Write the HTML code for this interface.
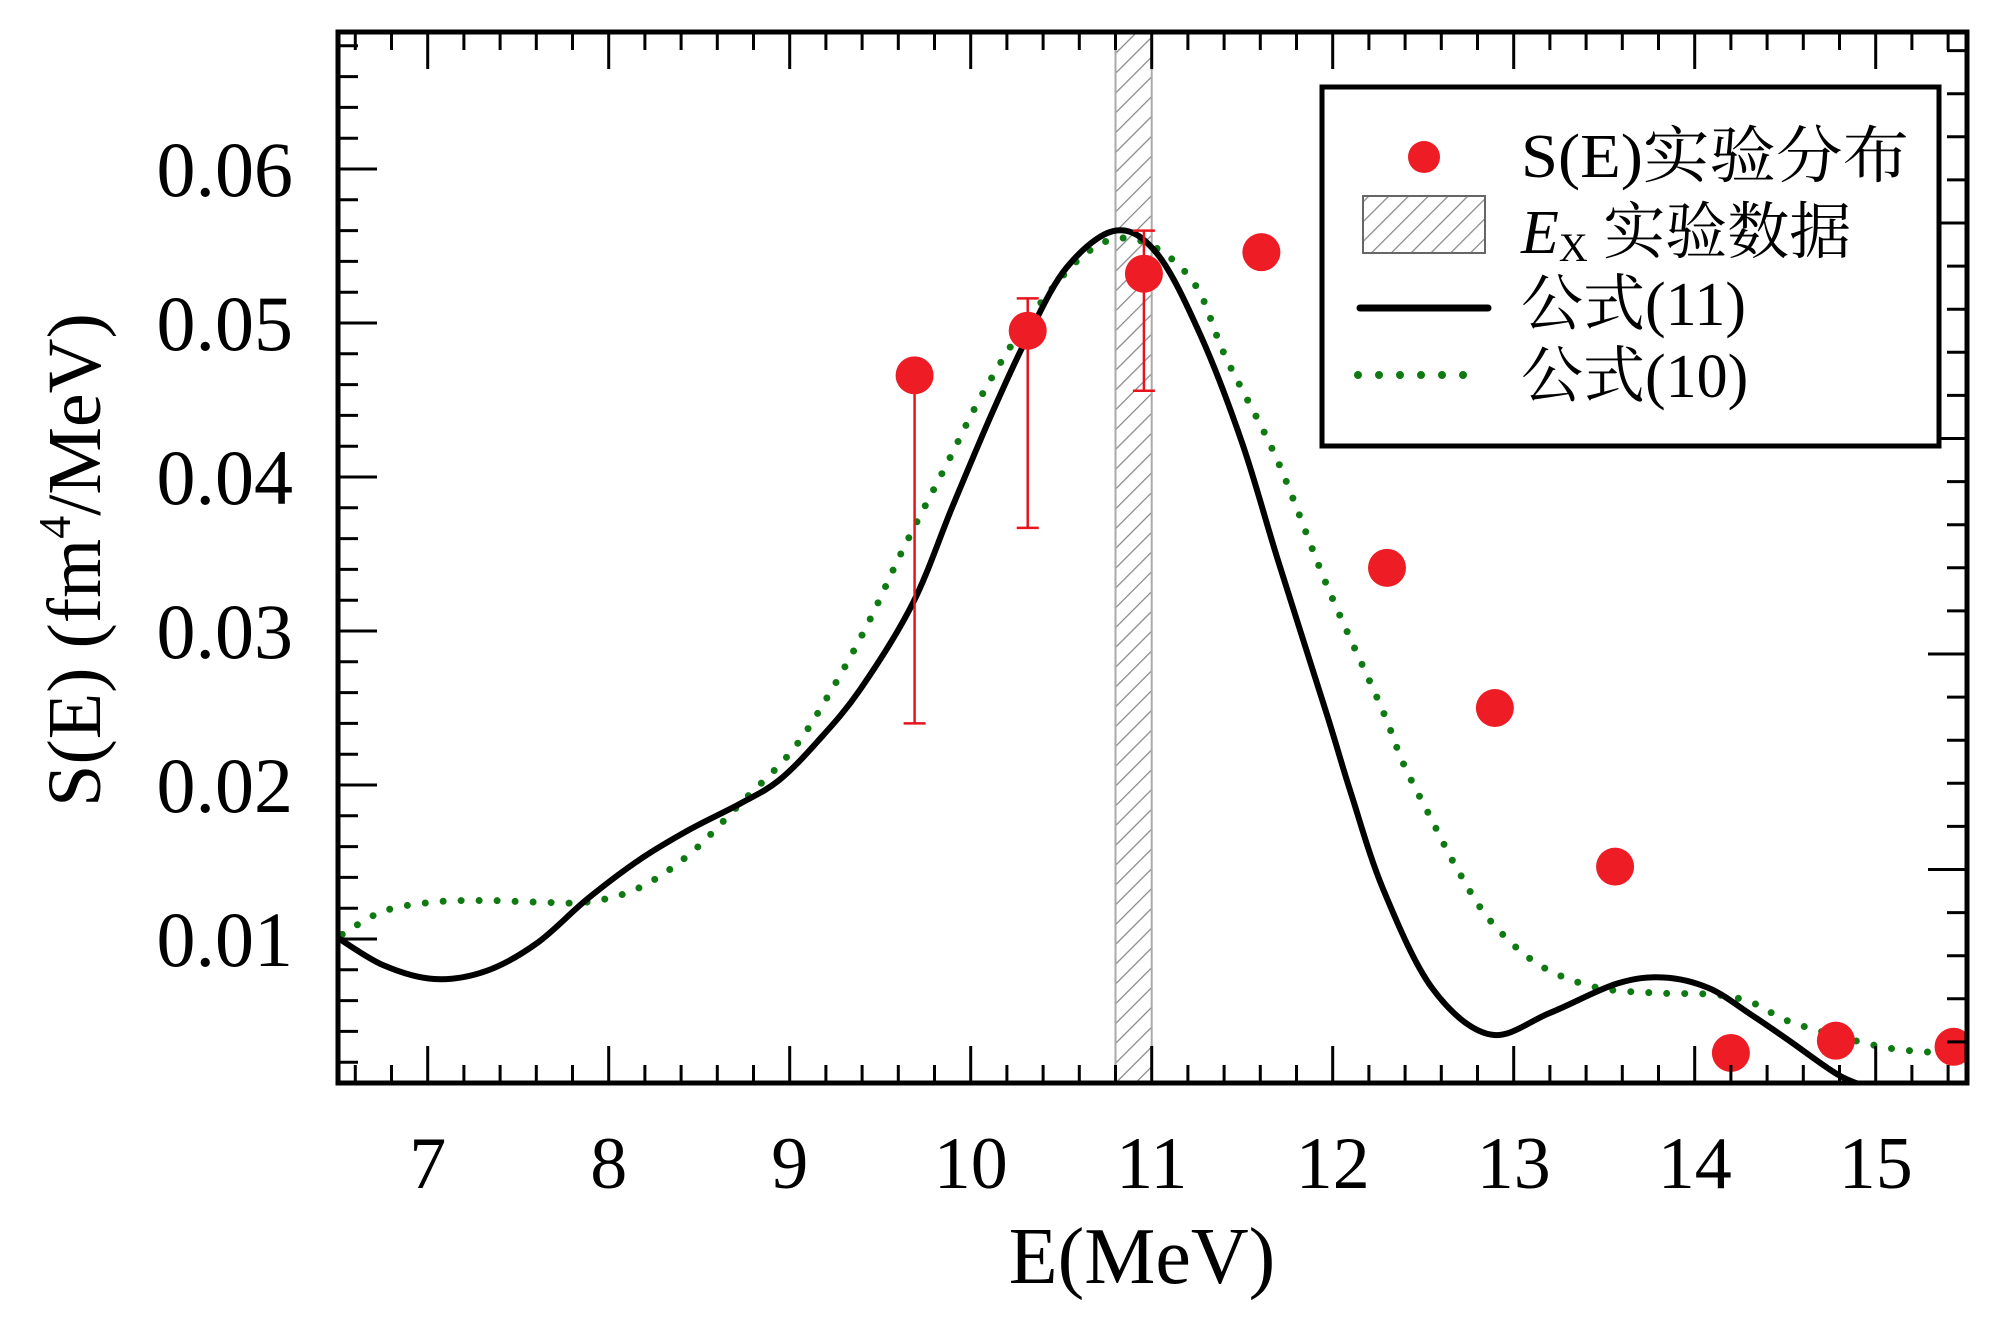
<!DOCTYPE html>
<html><head><meta charset="utf-8"><style>
html,body{margin:0;padding:0;background:#fff;}
svg{display:block;}
text{font-family:"Liberation Serif","Noto Serif CJK SC","Noto Sans CJK SC",serif;fill:#000;}
</style></head><body>
<svg id="chart" width="2000" height="1333" viewBox="0 0 2000 1333" xmlns="http://www.w3.org/2000/svg">
<defs>
<pattern id="hatch" patternUnits="userSpaceOnUse" width="14" height="14" patternTransform="rotate(45)">
<rect width="14" height="14" fill="#fff"/>
<line x1="0" y1="0" x2="0" y2="14" stroke="#888" stroke-width="2.5"/>
</pattern>
<clipPath id="plotclip"><rect x="338" y="32" width="1629" height="1051"/></clipPath>
</defs>
<g id="plot" clip-path="url(#plotclip)"></g>
<g id="axes"></g>
<g id="legend"></g>
</svg>
<script>
const expE = [9.69, 10.315, 10.957, 11.606, 12.30, 12.896, 13.56, 14.20, 14.78, 15.43];
const expS = [0.0466, 0.0495, 0.0532, 0.0546, 0.0341, 0.0250, 0.0147, 0.0026, 0.0034, 0.0030];
const errIdx = [0, 1, 2];
const errLo = [0.0240, 0.0367, 0.0456];
const errHi = [0.0466, 0.0516, 0.0560];
const f11E = [6.5,6.754,7.036,7.318,7.6,7.882,8.164,8.446,8.728,8.94,9.152,9.389,9.68,9.90,10.12,10.31,10.53,10.80,11.03,11.27,11.50,11.70,11.97,12.10,12.28,12.55,12.87,13.20,13.57,13.83,14.08,14.31,14.51,14.79,14.97,15.1];
const f11S = [0.0101,0.0083,0.0074,0.0079,0.0097,0.0126,0.0151,0.0171,0.0188,0.0203,0.0228,0.0262,0.0318,0.0381,0.0442,0.0490,0.0536,0.0560,0.0545,0.0492,0.0422,0.0345,0.0245,0.0195,0.0132,0.0068,0.0038,0.0052,0.0071,0.0075,0.0068,0.0051,0.0035,0.0012,0.0003,-0.0005];
const f10E = [6.528,6.754,7.036,7.318,7.6,7.882,8.164,8.446,8.728,9.011,9.223,9.433,9.626,9.875,10.024,10.19,10.367,10.604,10.814,11.035,11.25,11.408,11.69,11.97,12.27,12.39,12.54,12.69,12.87,13.13,13.44,13.77,14.10,14.31,14.51,14.79,15.08,15.36];
const f10S = [0.0103,0.0118,0.0124,0.0125,0.0124,0.0124,0.0133,0.0155,0.0188,0.0222,0.0260,0.0305,0.0353,0.0410,0.0445,0.0479,0.0510,0.0542,0.0555,0.0548,0.0523,0.0478,0.0412,0.0329,0.0250,0.0214,0.0179,0.0145,0.0112,0.0084,0.0069,0.0065,0.0064,0.0059,0.0047,0.0037,0.0029,0.0026];
const bandRange = [10.8, 11.0];
const xTicks = [7, 8, 9, 10, 11, 12, 13, 14, 15];
const yTicks = [0.01, 0.02, 0.03, 0.04, 0.05, 0.06];
const yTickLabels = ["0.01", "0.02", "0.03", "0.04", "0.05", "0.06"];

const NS = "http://www.w3.org/2000/svg";
const L = 338, R = 1967, T = 32, B = 1083;
function xs(e){ return 427.7 + (e - 7) * 181; }
function ys(v){ return 169 + (0.06 - v) * 15400; }
function mk(tag, attrs, parent){ const el = document.createElementNS(NS, tag); for (const k in attrs) el.setAttribute(k, attrs[k]); parent.appendChild(el); return el; }
function smooth(pts){
  let d = "M" + pts[0][0] + "," + pts[0][1];
  for (let i = 0; i < pts.length - 1; i++){
    const p0 = pts[Math.max(i-1,0)], p1 = pts[i], p2 = pts[i+1], p3 = pts[Math.min(i+2,pts.length-1)];
    const c1x = p1[0] + (p2[0]-p0[0])/6, c1y = p1[1] + (p2[1]-p0[1])/6;
    const c2x = p2[0] - (p3[0]-p1[0])/6, c2y = p2[1] - (p3[1]-p1[1])/6;
    d += " C" + c1x + "," + c1y + " " + c2x + "," + c2y + " " + p2[0] + "," + p2[1];
  }
  return d;
}
const plot = document.getElementById("plot");
const axes = document.getElementById("axes");
const legend = document.getElementById("legend");

const band = mk("rect", {x: xs(bandRange[0]), y: T, width: xs(bandRange[1]) - xs(bandRange[0]), height: B - T, fill: "url(#hatch)", stroke: "#aaa", "stroke-width": 2}, plot);



const c10 = mk("path", {d: smooth(f10E.map((e,i)=>[xs(e), ys(f10S[i])])), fill: "none", stroke: "#0f7a12", "stroke-width": 7, "stroke-linecap": "round", "stroke-dasharray": "0 18"}, plot);


const c11 = mk("path", {d: smooth(f11E.map((e,i)=>[xs(e), ys(f11S[i])])), fill: "none", stroke: "#000", "stroke-width": 6}, plot);



errIdx.forEach((idx, k) => {
  const x = xs(expE[idx]);
  const g = mk("g", {stroke: "#e8141c", "stroke-width": 2.5}, plot);
  
  
  mk("line", {x1: x, x2: x, y1: ys(errHi[k]), y2: ys(errLo[k])}, g);
  mk("line", {x1: x-11, x2: x+11, y1: ys(errHi[k]), y2: ys(errHi[k])}, g);
  mk("line", {x1: x-11, x2: x+11, y1: ys(errLo[k]), y2: ys(errLo[k])}, g);
});
expE.forEach((e, i) => {
  const c = mk("circle", {cx: xs(e), cy: ys(expS[i]), r: 19, fill: "#ee1c24"}, plot);
  
  
});

const frame = mk("rect", {x: L, y: T, width: R - L, height: B - T, fill: "none", stroke: "#000", "stroke-width": 5}, axes);



for (let k = 0; k <= 45; k++){
  const e = 6.6 + k * 0.2;
  if (e > 15.45) break;
  const major = Math.abs(e - Math.round(e)) < 0.01;
  const len = major ? 37 : 18;
  const x = xs(e);
  mk("line", {x1: x, x2: x, y1: B, y2: B - len, stroke: "#000", "stroke-width": 3}, axes);
  mk("line", {x1: x, x2: x, y1: T, y2: T + len, stroke: "#000", "stroke-width": 3}, axes);
}
xTicks.forEach(t => {
  const tx = mk("text", {x: xs(t), y: 1188, "font-size": 74, "text-anchor": "middle"}, axes);
  tx.textContent = String(t);
  
  
});
for (let k = 0; k <= 40; k++){
  const v = 0.002 + k * 0.002;
  if (ys(v) < T + 2) break;
  const major = (Math.round(v * 1000) % 10) === 0;
  mk("line", {x1: L, x2: L + (major ? 39 : 20), y1: ys(v), y2: ys(v), stroke: "#000", "stroke-width": 3}, axes);
}
yTicks.forEach((v, i) => {
  const tx = mk("text", {x: 293, y: ys(v) + 27, "font-size": 78, "text-anchor": "end"}, axes);
  tx.textContent = yTickLabels[i];
  
  
});
for (let k = -4; k <= 20; k++){
  const y = 223 + k * 43.1;
  if (y < T + 5 || y > B - 5) continue;
  const major = (k % 5) === 0;
  mk("line", {x1: R, x2: R - (major ? 39 : 20), y1: y, y2: y, stroke: "#000", "stroke-width": 3}, axes);
}
const xt = mk("text", {x: 1142, y: 1283, "font-size": 80, "text-anchor": "middle"}, axes);
xt.textContent = "E(MeV)";


const yt = mk("text", {x: 0, y: 0, "font-size": 76, "text-anchor": "middle", transform: "translate(100,560) rotate(-90)"}, axes);
yt.innerHTML = 'S(E) (fm<tspan font-size="46" dy="-30">4</tspan><tspan dy="30">/MeV)</tspan>';



const lb = mk("rect", {x: 1322, y: 87, width: 617, height: 359, fill: "#fff", stroke: "#000", "stroke-width": 5}, legend);


const ld = mk("circle", {cx: 1424, cy: 157, r: 16, fill: "#ee1c24"}, legend);


const lh = mk("rect", {x: 1363, y: 196, width: 122, height: 57, fill: "url(#hatch)", stroke: "#666", "stroke-width": 2}, legend);


const ll = mk("line", {x1: 1360, x2: 1488, y1: 308, y2: 308, stroke: "#000", "stroke-width": 7, "stroke-linecap": "round"}, legend);


const lg = mk("line", {x1: 1358, x2: 1484, y1: 375, y2: 375, stroke: "#0f7a12", "stroke-width": 8, "stroke-linecap": "round", "stroke-dasharray": "0 21"}, legend);



const t1 = mk("text", {x: 1521, y: 177, "font-size": 62, textLength: 388, lengthAdjust: "spacingAndGlyphs"}, legend);
t1.textContent = "S(E)实验分布";


const t2 = mk("text", {x: 1521, y: 253, "font-size": 62}, legend);
t2.innerHTML = '<tspan font-style="italic">E</tspan><tspan font-size="40" dy="8">X</tspan><tspan dy="-8"> 实验数据</tspan>';


const t3 = mk("text", {x: 1521, y: 325, "font-size": 62}, legend);
t3.textContent = "公式(11)";


const t4 = mk("text", {x: 1521, y: 397, "font-size": 62}, legend);
t4.textContent = "公式(10)";


</script>
</body></html>
